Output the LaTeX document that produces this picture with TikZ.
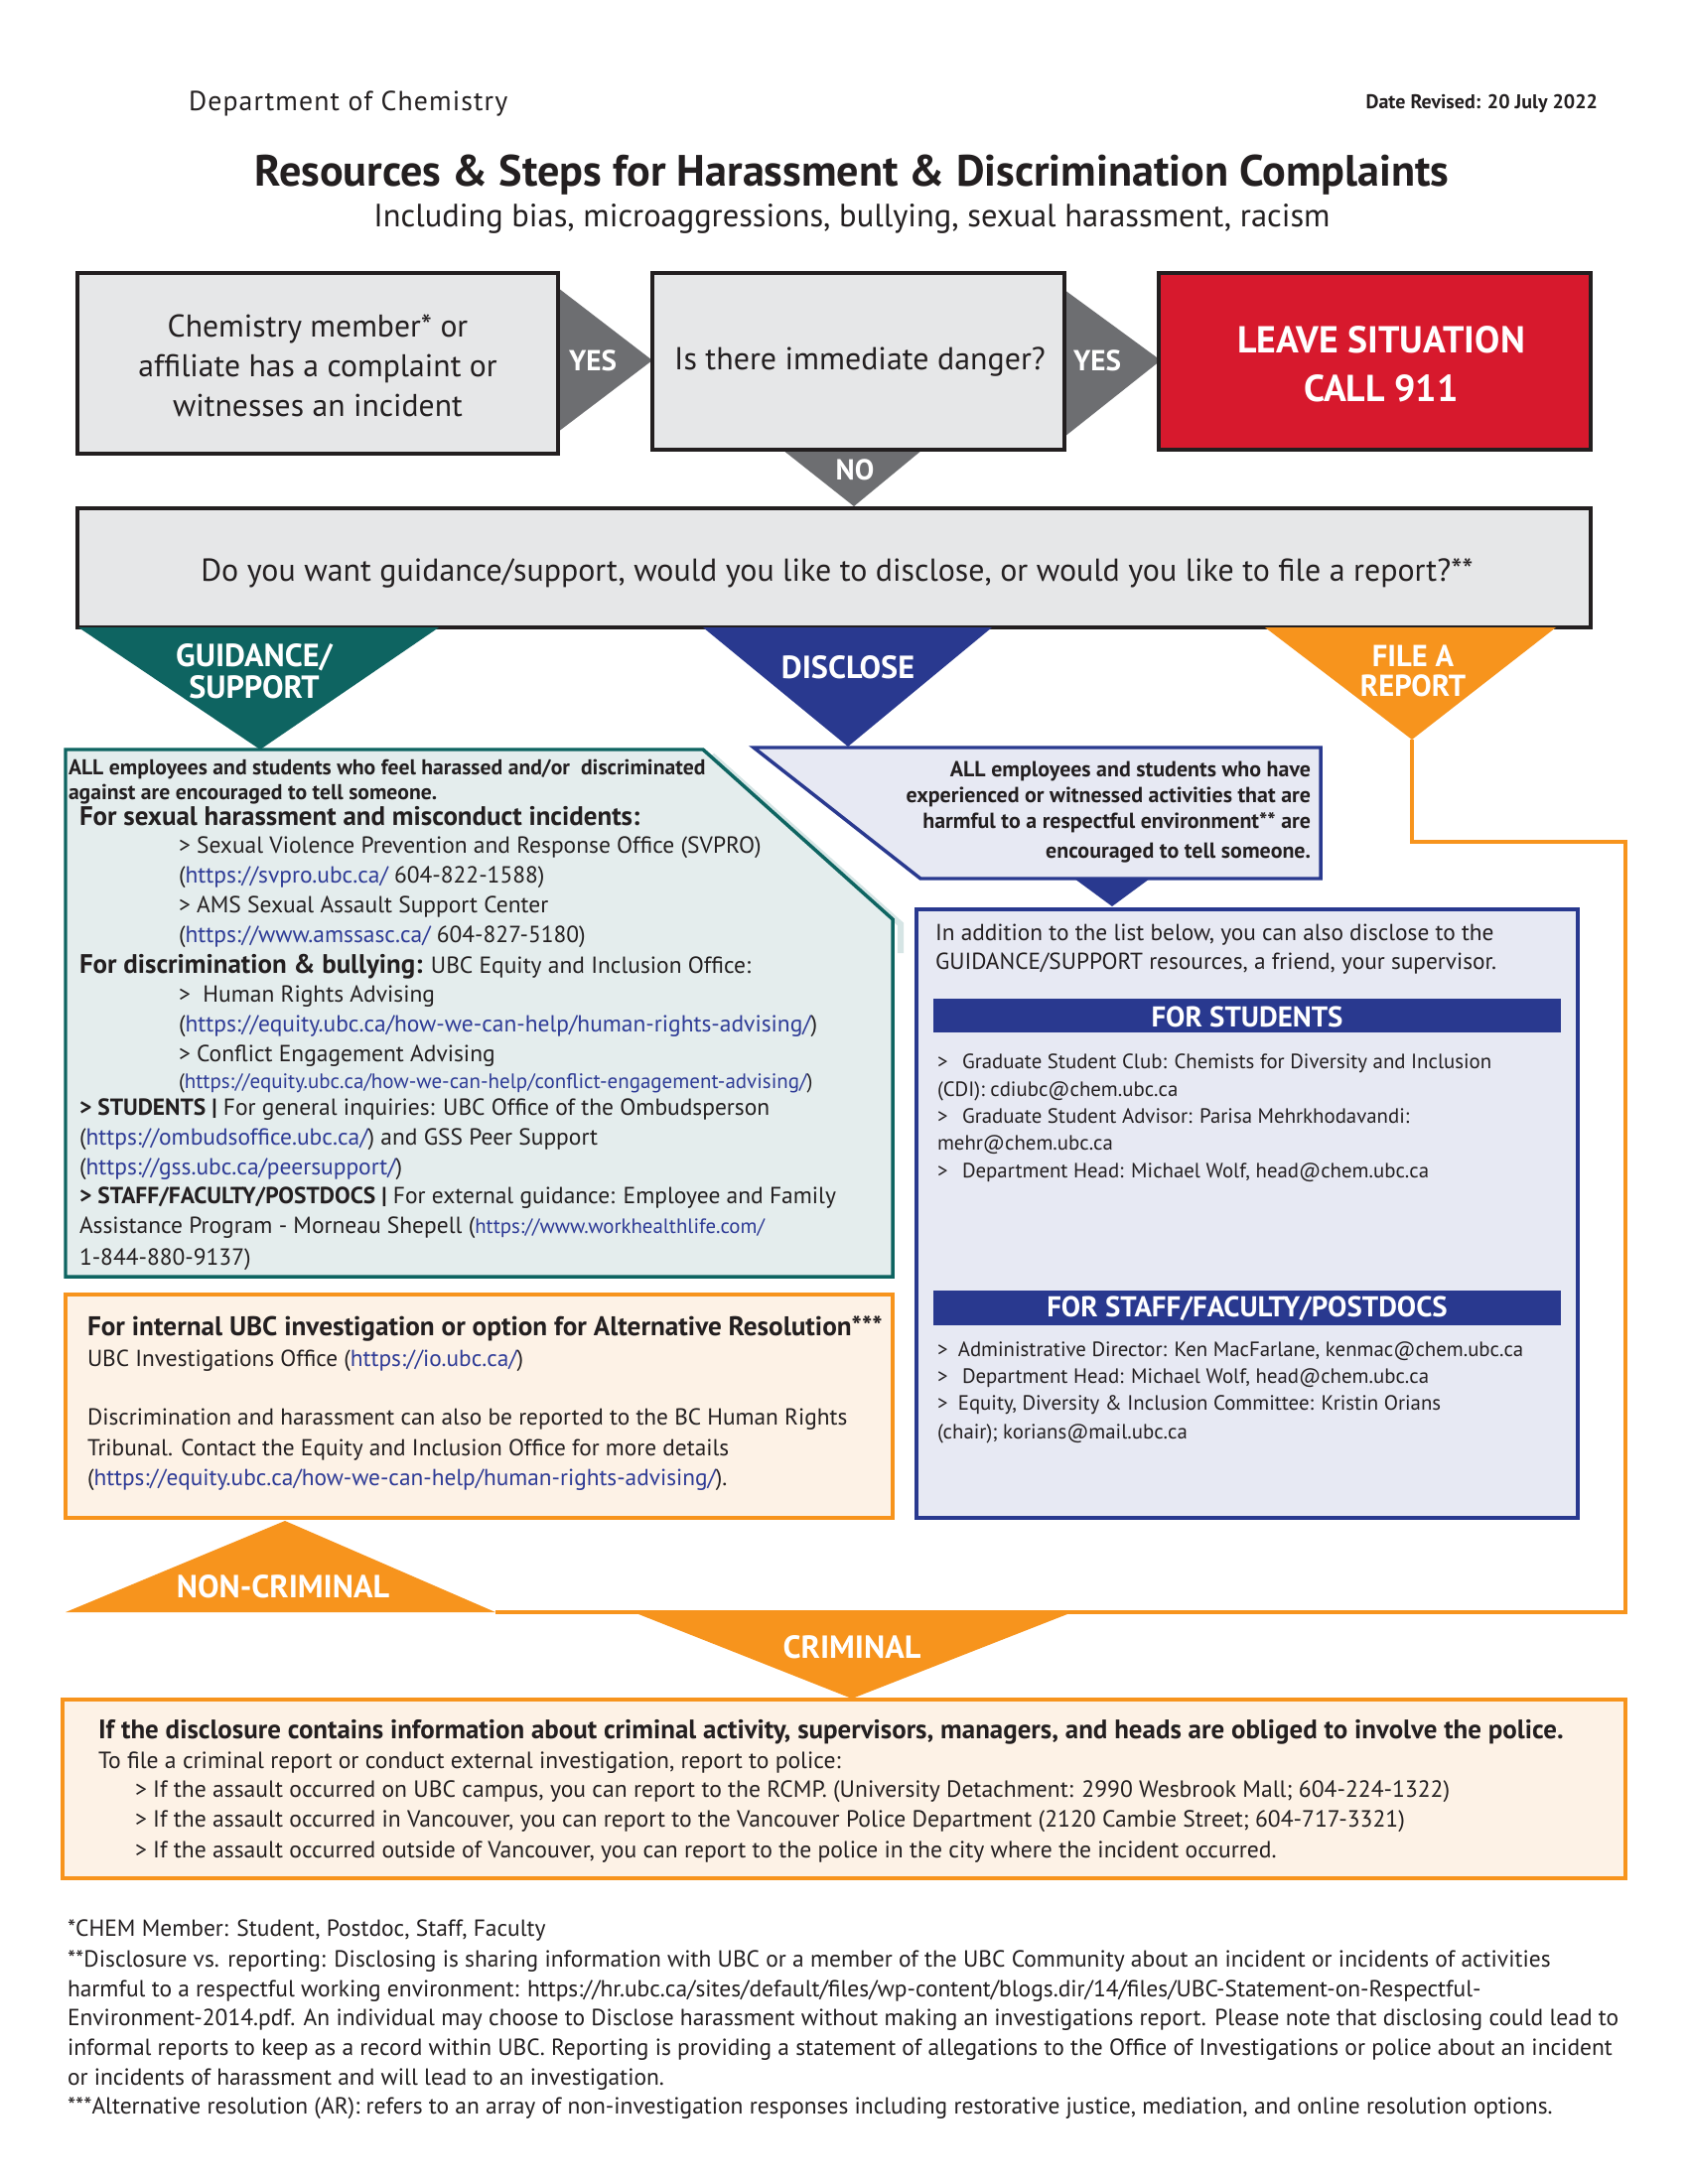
\documentclass[tikz,border=0pt]{standalone}
\usepackage{fontspec}
\setmainfont{PT Sans}
\usetikzlibrary{fit}
\definecolor{ink}{HTML}{231F20}
\definecolor{boxgray}{HTML}{E6E7E8}
\definecolor{arrgray}{HTML}{6D6E71}
\definecolor{ubcred}{HTML}{D7192D}
\definecolor{tealc}{HTML}{0E6461}
\definecolor{tealfill}{HTML}{E4EDED}
\definecolor{tealband}{HTML}{D6E5E5}
\definecolor{navy}{HTML}{29398F}
\definecolor{navyfill}{HTML}{E7E9F3}
\definecolor{orng}{HTML}{F7941D}
\definecolor{cream}{HTML}{FDF2E6}
\definecolor{linkc}{HTML}{2E3B96}
\newcommand\lk[1]{\textcolor{linkc}{#1}}
\newcommand\fz[1]{\fontsize{#1}{#1}\selectfont}
\newcommand\TL[5]{\node[anchor=base west,text=ink,font=#4] (#1) at (#2,#3) {#5};}
\newcommand\TR[5]{\node[anchor=base east,text=ink,font=#4] (#1) at (#2,#3) {#5};}
\newcommand\TC[5]{\node[anchor=base,text=ink,font=#4] (#1) at (#2,#3) {#5};}
\begin{document}
\begin{tikzpicture}[x=0.36pt,y=-0.36pt]
\tikzset{every node/.style={inner sep=0pt,outer sep=0pt},
  graybox/.style={draw=ink,fill=boxgray,line width=1.5pt,inner sep=0pt},
  redbox/.style={draw=ink,fill=ubcred,line width=1.5pt,inner sep=0pt},
  navybox/.style={draw=navy,fill=navyfill,line width=1.25pt,inner sep=0pt},
  orbox/.style={draw=orng,fill=cream,line width=1.25pt,inner sep=0pt},
  bar/.style={fill=navy,inner sep=0pt},
  lab/.style={text=white,font=\bfseries\fz{11.6},align=center},
  barlab/.style={text=white,font=\bfseries\fz{10.4}},
  conn/.style={draw=orng,line width=1.3pt}}
\fill[white] (0,0) rectangle (1700,2200);
\useasboundingbox (0,0) rectangle (1700,2200);

% header
\node[anchor=base west,text=ink,font=\fz{10}\addfontfeature{LetterSpace=4}] (dept) at (190,112) {Department of Chemistry};
\TR{date}{1609}{110}{\bfseries\fz{7.2}}{Date Revised: 20 July 2022}
\TC{title}{858}{188}{\bfseries\fz{15.9}}{Resources \& Steps for Harassment \& Discrimination Complaints}
\TC{sub}{858}{229}{\fz{11.7}}{Including bias, microaggressions, bullying, sexual harassment, racism}

% top row arrows
\coordinate (t1a) at (562,290); \coordinate (t1b) at (562,435); \coordinate (t1c) at (657,363);
\coordinate (t2a) at (1072,292); \coordinate (t2b) at (1072,440); \coordinate (t2c) at (1169,363);
\coordinate (t3a) at (788,453); \coordinate (t3b) at (929,453); \coordinate (t3c) at (860,510);
\fill[arrgray] (t1a) -- (t1b) -- (t1c) -- cycle;
\fill[arrgray] (t2a) -- (t2b) -- (t2c) -- cycle;
\fill[arrgray] (t3a) -- (t3b) -- (t3c) -- cycle;
\node[graybox,fit={(78,275)(562,457)}] (b1) {};
\node[graybox,fit={(657,275)(1072,453)}] (b2) {};
\node[redbox,fit={(1167,275)(1602,453)}] (b3) {};
\node[text=ink,font=\fontsize{11.4}{14.4}\selectfont,align=center] (b1t) at (320,368) {Chemistry member* or\\affiliate has a complaint or\\witnesses an incident};
\TC{b2t}{866}{372}{\fz{11.5}}{Is there immediate danger?}
\node[text=white,font=\bfseries\fontsize{13.6}{17.6}\selectfont,align=center] (b3t) at (1391,367) {LEAVE SITUATION\\CALL 911};
\node[text=white,font=\bfseries\fz{10.5}] (yes1) at (597,363) {YES};
\node[text=white,font=\bfseries\fz{10.5}] (yes2) at (1105,363) {YES};
\node[text=white,font=\bfseries\fz{10.5}] (no) at (861,473) {NO};

% question box
\node[graybox,fit={(78,512)(1602,632)}] (q) {};
\TC{qt}{843}{585}{\fz{11.5}}{Do you want guidance/support, would you like to disclose, or would you like to file a report?**}

% teal box
\draw[tealband,line width=2.2pt] (717,761) -- (907,931) -- (907,960);
\draw[tealc,fill=tealfill,line width=1.25pt] (66,755) -- (708,755) -- (899,926) -- (899,1286) -- (66,1286) -- cycle;
% disclose box
\draw[navy,fill=navyfill,line width=1.25pt] (759,753) -- (1330,753) -- (1330,885) -- (927,885) -- cycle;
% navy box
\node[navybox,fit={(923,916)(1589,1529)}] (nb) {};
% orange box
\node[orbox,fit={(66,1304)(899,1529)}] (ob) {};
% criminal box
\node[orbox,fit={(63,1712)(1637,1892)}] (cb) {};

% triangles under question box
\coordinate (gA) at (79,632); \coordinate (gB) at (442,632); \coordinate (gT) at (262,755);
\coordinate (dA) at (708,632); \coordinate (dB) at (999,632); \coordinate (dT) at (854,752);
\coordinate (fA) at (1274,632); \coordinate (fB) at (1567,632); \coordinate (fT) at (1422,745);
\fill[tealc] (gA) -- (gB) -- (gT) -- cycle;
\fill[navy] (dA) -- (dB) -- (dT) -- cycle;
\fill[orng] (fA) -- (fB) -- (fT) -- cycle;
\node[lab] (gl) at (256,676) {GUIDANCE/\\SUPPORT};
\node[lab] (dl) at (854,672) {DISCLOSE};
\node[lab,font=\bfseries\fz{11}] (fl) at (1423,676) {FILE A\\REPORT};
\coordinate (sA) at (1082,885); \coordinate (sB) at (1158,885); \coordinate (sT) at (1120,913);
\fill[navy] (sA) -- (sB) -- (sT) -- cycle;

% non-criminal / criminal
\coordinate (ncL) at (66,1624); \coordinate (ncR) at (499,1624); \coordinate (ncT) at (287,1532);
\coordinate (crL) at (638,1624); \coordinate (crR) at (1080,1624); \coordinate (crT) at (858,1711);
\coordinate (rc) at (1637,848);
\draw[conn] (fT) |- (rc) |- (ncR);
\fill[orng] (ncL) -- (ncR) -- (ncT) -- cycle;
\fill[orng] (crL) -- (crR) -- (crT) -- cycle;
\node[lab] (ncl) at (285,1598) {NON-CRIMINAL};
\node[lab] (crl) at (858,1659) {CRIMINAL};

% teal box text
\TL{g1}{69}{780}{\bfseries\fz{7.8}}{ALL employees and students who feel harassed and/or\ \ discriminated}
\TL{g2}{69}{805}{\bfseries\fz{7.8}}{against are encouraged to tell someone.}
\TL{g3}{80}{831}{\bfseries\fz{9.7}}{For sexual harassment and misconduct incidents:}
\TL{g4}{180}{859}{\fz{8.45}}{> Sexual Violence Prevention and Response Office (SVPRO)}
\TL{g5}{180}{889}{\fz{8.45}}{(\lk{https://svpro.ubc.ca/} 604-822-1588)}
\TL{g6}{180}{919}{\fz{8.45}}{> AMS Sexual Assault Support Center}
\TL{g7}{180}{949}{\fz{8.45}}{(\lk{https://www.amssasc.ca/} 604-827-5180)}
\TL{g8}{80}{980}{\fz{8.45}}{{\bfseries\fz{9.7}For discrimination \& bullying:} UBC Equity and Inclusion Office:}
\TL{g9}{180}{1009}{\fz{8.45}}{>\ \ Human Rights Advising}
\TL{g10}{180}{1039}{\fz{8.45}}{(\lk{https://equity.ubc.ca/how-we-can-help/human-rights-advising/})}
\TL{g11}{180}{1069}{\fz{8.45}}{> Conflict Engagement Advising}
\TL{g12}{180}{1096}{\fz{7.55}}{(\lk{https://equity.ubc.ca/how-we-can-help/conflict-engagement-advising/})}
\TL{g13}{80}{1123}{\fz{8.45}}{{\bfseries > STUDENTS |} For general inquiries: UBC Office of the Ombudsperson}
\TL{g14}{80}{1153}{\fz{8.45}}{(\lk{https://ombudsoffice.ubc.ca/}) and GSS Peer Support}
\TL{g15}{80}{1183}{\fz{8.45}}{(\lk{https://gss.ubc.ca/peersupport/})}
\TL{g16}{80}{1212}{\fz{8.45}}{{\bfseries > STAFF/FACULTY/POSTDOCS |} For external guidance: Employee and Family}
\TL{g17}{80}{1242}{\fz{8.45}}{Assistance Program - Morneau Shepell (\lk{\fz{7.5}https://www.workhealthlife.com/}}
\TL{g18}{80}{1274}{\fz{8.45}}{1-844-880-9137)}

% disclose text
\TR{d1}{1320}{782}{\bfseries\fz{7.9}}{ALL employees and students who have}
\TR{d2}{1320}{808}{\bfseries\fz{7.9}}{experienced or witnessed activities that are}
\TR{d3}{1320}{834}{\bfseries\fz{7.9}}{harmful to a respectful environment** are}
\TR{d4}{1320}{864}{\bfseries\fz{7.9}}{encouraged to tell someone.}

% navy box text
\TL{n1}{942}{947}{\fz{8.4}}{In addition to the list below, you can also disclose to the}
\TL{n2}{942}{976}{\fz{8.4}}{GUIDANCE/SUPPORT resources, a friend, your supervisor.}
\node[bar,fit={(940,1006)(1572,1040)}] (barS) {};
\node[barlab] (barSt) at (1256,1024) {FOR STUDENTS};
\TL{n3}{944}{1076}{\fz{7.5}}{\makebox[9pt][l]{>}Graduate Student Club: Chemists for Diversity and Inclusion}
\TL{n4}{944}{1104}{\fz{7.5}}{(CDI): cdiubc@chem.ubc.ca}
\TL{n5}{944}{1131}{\fz{7.5}}{\makebox[9pt][l]{>}Graduate Student Advisor: Parisa Mehrkhodavandi:}
\TL{n6}{944}{1158}{\fz{7.5}}{mehr@chem.ubc.ca}
\TL{n7}{944}{1186}{\fz{7.5}}{\makebox[9pt][l]{>}Department Head: Michael Wolf, head@chem.ubc.ca}
\node[bar,fit={(940,1300)(1572,1335)}] (barF) {};
\node[barlab] (barFt) at (1256,1318) {FOR STAFF/FACULTY/POSTDOCS};
\TL{n8}{944}{1366}{\fz{7.5}}{\makebox[7.5pt][l]{>}Administrative Director: Ken MacFarlane, kenmac@chem.ubc.ca}
\TL{n9}{944}{1393}{\fz{7.5}}{\makebox[9pt][l]{>}Department Head: Michael Wolf, head@chem.ubc.ca}
\TL{n10}{944}{1420}{\fz{7.5}}{\makebox[7.5pt][l]{>}Equity, Diversity \& Inclusion Committee: Kristin Orians}
\TL{n11}{944}{1449}{\fz{7.5}}{(chair); korians@mail.ubc.ca}

% orange box text
\TL{o1}{88}{1345}{\bfseries\fz{9.8}}{For internal UBC investigation or option for Alternative Resolution***}
\TL{o2}{88}{1376}{\fz{8.4}}{UBC Investigations Office (\lk{https://io.ubc.ca/})}
\TL{o3}{88}{1435}{\fz{8.4}}{Discrimination and harassment can also be reported to the BC Human Rights}
\TL{o4}{88}{1466}{\fz{8.4}}{Tribunal. Contact the Equity and Inclusion Office for more details}
\TL{o5}{88}{1496}{\fz{8.4}}{(\lk{https://equity.ubc.ca/how-we-can-help/human-rights-advising/}).}

% criminal box text
\TL{c1}{99}{1751}{\bfseries\fz{9.7}}{If the disclosure contains information about criminal activity, supervisors, managers, and heads are obliged to involve the police.}
\TL{c2}{99}{1781}{\fz{8.5}}{To file a criminal report or conduct external investigation, report to police:}
\TL{c3}{136}{1810}{\fz{8.5}}{> If the assault occurred on UBC campus, you can report to the RCMP. (University Detachment: 2990 Wesbrook Mall; 604-224-1322)}
\TL{c4}{136}{1840}{\fz{8.5}}{> If the assault occurred in Vancouver, you can report to the Vancouver Police Department (2120 Cambie Street; 604-717-3321)}
\TL{c5}{136}{1871}{\fz{8.5}}{> If the assault occurred outside of Vancouver, you can report to the police in the city where the incident occurred.}

% footnotes
\TL{f1}{68}{1950}{\fz{8.45}}{*CHEM Member: Student, Postdoc, Staff, Faculty}
\TL{f2}{68}{1981}{\fz{8.45}}{**Disclosure vs. reporting: Disclosing is sharing information with UBC or a member of the UBC Community about an incident or incidents of activities}
\TL{f3}{68}{2011}{\fz{8.45}}{harmful to a respectful working environment: https://hr.ubc.ca/sites/default/files/wp-content/blogs.dir/14/files/UBC-Statement-on-Respectful-}
\TL{f4}{68}{2040}{\fz{8.45}}{Environment-2014.pdf. An individual may choose to Disclose harassment without making an investigations report. Please note that disclosing could lead to}
\TL{f5}{68}{2070}{\fz{8.45}}{informal reports to keep as a record within UBC. Reporting is providing a statement of allegations to the Office of Investigations or police about an incident}
\TL{f6}{68}{2100}{\fz{8.45}}{or incidents of harassment and will lead to an investigation.}
\TL{f7}{68}{2129}{\fz{8.45}}{***Alternative resolution (AR): refers to an array of non-investigation responses including restorative justice, mediation, and online resolution options.}
\end{tikzpicture}
\end{document}
